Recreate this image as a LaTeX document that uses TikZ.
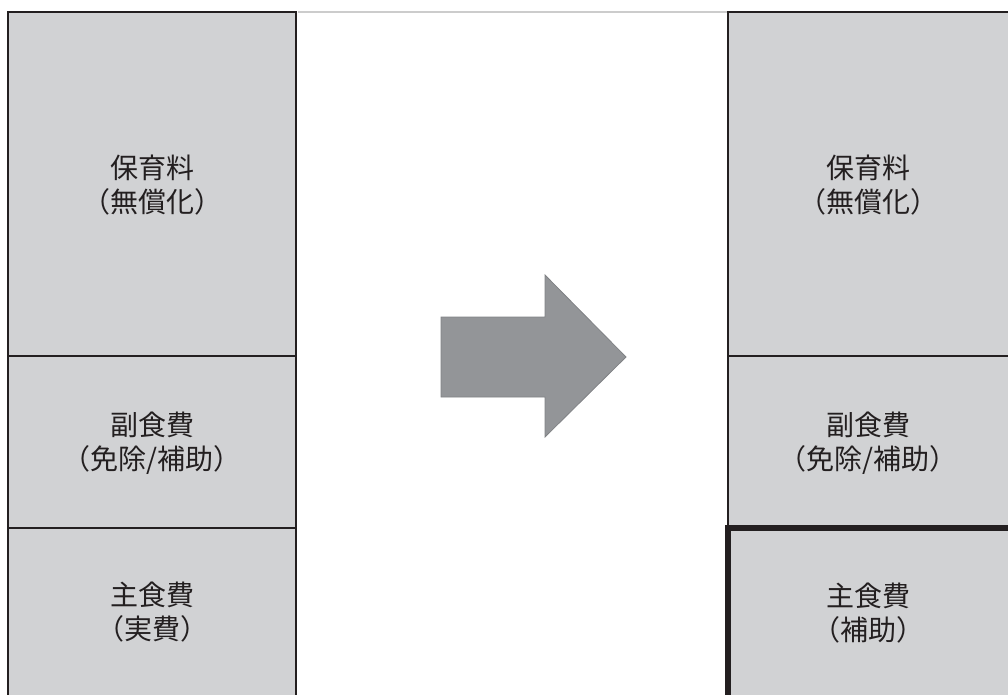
\documentclass[tikz,border=0pt]{standalone}
\usepackage{fontspec}
\newfontfamily\jpfont{Noto Sans CJK JP}
\definecolor{boxgray}{HTML}{D1D2D4}
\definecolor{edgedark}{HTML}{231F20}
\definecolor{arrowgray}{HTML}{939598}
\definecolor{arrowedge}{HTML}{808285}
\definecolor{topline}{HTML}{CCCCCC}
\tikzset{
  cell/.style={draw=edgedark, line width=2.6pt, fill=boxgray},
  label/.style={align=center, text=edgedark, font=\jpfont\fontsize{28}{34}\selectfont},
}
\begin{document}
\begin{tikzpicture}[x=1pt, y=-1pt]
  \useasboundingbox (0,0) rectangle (1008,695);

	%columns
 \def\lx{8};
 \def\rx{728};
 \def\w{288};

    \foreach \top/\bot/\name/\txt in {12/356/L1/{保育料\\（無償化）}, 356/528/L2/{副食費\\（免除/補助）}, 528/702/L3/{主食費\\（実費）}}{
         \draw[cell] (\lx,\top) rectangle (\lx+\w,\bot);
         \node[label] (\name) at (\lx+\w/2, {(\top+min(\bot,695))/2+1}) {\txt};
    }

    \foreach \top/\bot/\name/\txt in {12/356/R1/{保育料\\（無償化）}, 356/528/R2/{副食費\\（免除/補助）}}{
         \draw[cell] (\rx,\top) rectangle (\rx+\w,\bot);
         \node[label] (\name) at (\rx+140, {(\top+\bot)/2+1}) {\txt};
    }
 \draw[cell, line width=6.5pt] (\rx,528) rectangle (\rx+\w,702);
 \node[label] (R3) at (\rx+140, 613) {主食費\\（補助）};

%top rule
 \coordinate (Ltop) at (\lx+\w+1.5,12);
 \coordinate (Rtop) at (\rx-1.5,12);
 \draw[topline, line width=2pt] (Ltop) -- (Rtop);

%arrow
 \draw[fill=arrowgray, draw=arrowedge, line width=0.8pt]
   (441,317) -- (545,317) -- (545,275) -- (626,357) -- (545,437) -- (545,397) -- (441,397) -- cycle;

\end{tikzpicture}
\end{document}
